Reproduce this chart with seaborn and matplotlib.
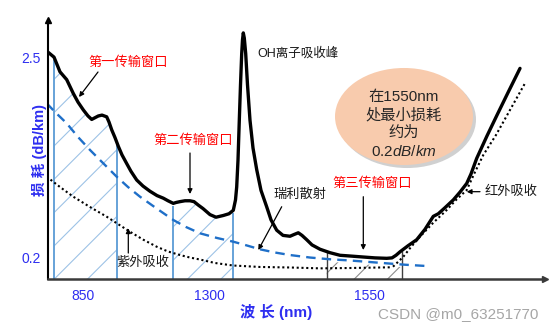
import numpy as np
import matplotlib
matplotlib.use("Agg")
import matplotlib.pyplot as plt
from matplotlib.patches import Ellipse
import seaborn as sns

# ---------------- data (schematic horizontal position, loss in dB/km) ----------------
total_x = [47.7, 54, 60, 66.7, 73.3, 78, 83.3, 88, 91.7, 95, 98.3, 102, 106.7, 109, 111.7,
           115, 118.3, 122, 126.7, 131, 136.7, 143, 150, 157, 163.3, 168, 173.3, 176, 180,
           185, 190, 194, 198.3, 203, 210, 216, 223.3, 229, 233.3, 235.5, 236.7, 238, 239.3,
           240.5, 241.7, 242.5, 243.3, 244.3, 245.7, 247.5, 250, 253, 256.7, 261, 266.7, 271,
           276.7, 283, 290, 294, 298.3, 302, 306.7, 312, 320, 330, 340, 352, 363.3, 375,
           386.7, 392, 396, 400, 408, 416.7, 425, 433.3, 438.3, 445, 453.3, 460, 466.7, 471,
           476.7, 487, 497, 508, 520]
total_loss = [2.57, 2.51, 2.34, 2.25, 2.09, 1.99, 1.90, 1.83, 1.79, 1.81, 1.83, 1.84, 1.82,
              1.76, 1.67, 1.58, 1.48, 1.38, 1.28, 1.19, 1.09, 1.02, 0.96, 0.91, 0.88, 0.85,
              0.82, 0.83, 0.84, 0.85, 0.85, 0.84, 0.80, 0.76, 0.69, 0.66, 0.68, 0.70, 0.74,
              0.86, 1.01, 1.32, 1.78, 2.19, 2.55, 2.71, 2.79, 2.73, 2.55, 2.19, 1.78, 1.46,
              1.21, 0.97, 0.78, 0.63, 0.51, 0.45, 0.44, 0.46, 0.48, 0.45, 0.40, 0.34, 0.29,
              0.25, 0.22, 0.21, 0.20, 0.19, 0.185, 0.19, 0.22, 0.26, 0.33, 0.40, 0.52, 0.67,
              0.70, 0.77, 0.86, 0.95, 1.05, 1.16, 1.34, 1.60, 1.84, 2.10, 2.38]

rayleigh_x = [46.7, 55, 66.7, 78, 90, 103, 116.7, 128, 140, 156, 173.3, 186, 200, 217, 233.3,
              247, 260, 275, 290, 310, 330, 350, 370, 386.7, 405, 426.7]
rayleigh_loss = [1.976, 1.876, 1.745, 1.587, 1.437, 1.286, 1.128, 1.009, 0.897, 0.766, 0.628,
                 0.547, 0.474, 0.420, 0.377, 0.333, 0.289, 0.252, 0.223, 0.194, 0.174, 0.160,
                 0.142, 0.127, 0.111, 0.096]

uv_x = [46.7, 60, 73.3, 90, 106.7, 118, 130, 143, 156.7, 168, 180, 190, 200, 215, 233, 260,
        290, 320, 350, 390]
uv_loss = [1.128, 1.009, 0.897, 0.778, 0.666, 0.581, 0.492, 0.402, 0.319, 0.264, 0.223, 0.194,
           0.171, 0.131, 0.102, 0.085, 0.079, 0.069, 0.073, 0.081]

ir_x = [393, 403.3, 411, 420, 433, 446.7, 456, 466.7, 475, 483.3, 496, 510, 525]
ir_loss = [0.088, 0.203, 0.316, 0.435, 0.593, 0.743, 0.859, 0.974, 1.182, 1.379, 1.610,
           1.899, 2.208]

windows = [(54.3, 116.7), (172.7, 233.3), (326.7, 401.7)]

xtick_pos = [83, 209, 369]
xtick_labels = ["850", "1300", "1550"]
ytick_vals = [2.5, 0.2]
ytick_labels = ["2.5", "0.2"]

# ---------------- style ----------------
sns.set_theme(style="white")
plt.rcParams["font.family"] = ["Liberation Sans", "Noto Sans CJK SC", "DejaVu Sans"]
plt.rcParams["mathtext.fontset"] = "custom"
plt.rcParams["mathtext.rm"] = "Liberation Sans"
plt.rcParams["mathtext.it"] = "Liberation Sans:italic"
plt.rcParams["hatch.linewidth"] = 0.8

BLUE_TXT = "#2E2EF0"
RED = "#FF0000"

fig = plt.figure(figsize=(5.54, 3.32), dpi=100)
ax = fig.add_axes([48 / 554, (332 - 279) / 332, (545 - 48) / 554, (279 - 20) / 332])
ymin, ymax = -0.054, 2.939
ax.set_xlim(48, 545)
ax.set_ylim(ymin, ymax)

bx = np.array(total_x)
by = np.array(total_loss)

# transmission windows 1 & 2 (blue hatch)
for lo, hi in windows[:2]:
    m = (bx > lo) & (bx < hi)
    xs = np.concatenate([[lo], bx[m], [hi]])
    ys = np.concatenate([[np.interp(lo, bx, by)], by[m], [np.interp(hi, bx, by)]])
    ax.fill_between(xs, ys, ymin, facecolor="none", edgecolor="#9DC3E6", hatch="/", linewidth=0)
    for e in (lo, hi):
        ax.vlines(e, ymin, np.interp(e, bx, by) - 0.03, color="#5B9BD5", lw=1.3)

# window 3 (gray hatch)
lo, hi = windows[2]
rx = np.array(rayleigh_x); ry = np.array(rayleigh_loss)
xs = np.linspace(lo, hi, 2)
ax.fill_between([lo, hi], [np.interp(lo, rx, ry) - 0.03, np.interp(hi, rx, ry) - 0.03], ymin,
                facecolor="none", edgecolor="#8C8C8C", hatch="/", linewidth=0)
for e in (lo, hi):
    ax.vlines(e, ymin, np.interp(e, bx, by), color="#404040", lw=1.0)

# curves
sns.lineplot(x=rayleigh_x, y=rayleigh_loss, ax=ax, color="#1F6FC8", lw=1.7,
             linestyle=(0, (4, 2.6)), estimator=None, sort=False)
sns.lineplot(x=uv_x, y=uv_loss, ax=ax, color="black", lw=1.5, linestyle=(0, (1, 1.3)),
             estimator=None, sort=False)
sns.lineplot(x=ir_x, y=ir_loss, ax=ax, color="black", lw=1.5, linestyle=(0, (1, 1.3)),
             estimator=None, sort=False)
sns.lineplot(x=total_x, y=total_loss, ax=ax, color="black", lw=2.4, estimator=None, sort=False)

# axes styling
for s in ("top", "right"):
    ax.spines[s].set_visible(False)
ax.spines["left"].set_color("black")
ax.spines["left"].set_linewidth(1.5)
ax.spines["bottom"].set_color("#3A3A3A")
ax.spines["bottom"].set_linewidth(1.8)
ax.plot(0, 1, marker="^", ms=5, color="black", transform=ax.transAxes, clip_on=False)
ax.plot(1, 0, marker=">", ms=5, color="#3A3A3A", transform=ax.transAxes, clip_on=False)

ax.set_xticks(xtick_pos)
ax.set_xticklabels(xtick_labels)
ax.set_yticks(ytick_vals)
ax.set_yticklabels(ytick_labels)
ax.tick_params(axis="x", length=0, pad=7, labelsize=10, labelcolor=BLUE_TXT)
ax.tick_params(axis="y", length=0, pad=5, labelsize=10, labelcolor=BLUE_TXT)

ax.set_ylabel("损 耗 (dB/km)", color=BLUE_TXT, fontsize=10.5, fontweight="bold")
ax.yaxis.set_label_coords(-0.003, 0.50)
ax.set_xlabel("波 长 (nm)", color=BLUE_TXT, fontsize=11, fontweight="bold")
ax.xaxis.set_label_coords(0.459, -0.095)

# annotations
arrow = dict(arrowstyle="-|>", color="black", lw=0.9, mutation_scale=7, shrinkA=0, shrinkB=0)
ax.text(128, 2.448, "第一传输窗口", color=RED, fontsize=9.5, ha="center", va="center")
ax.annotate("", xy=(79, 2.049), xytext=(98, 2.338), arrowprops=arrow)
ax.text(193, 1.541, "第二传输窗口", color=RED, fontsize=9.5, ha="center", va="center")
ax.annotate("", xy=(190, 0.928), xytext=(190, 1.402), arrowprops=arrow)
ax.text(257, 2.554, "OH离子吸收峰", color="#1A1A1A", fontsize=9, ha="left", va="center")
ax.text(300, 0.917, "瑞利散射", color="#1A1A1A", fontsize=9.5, ha="center", va="center")
ax.annotate("", xy=(258.3, 0.281), xytext=(281.7, 0.781), arrowprops=arrow)
ax.text(371.7, 1.052, "第三传输窗口", color=RED, fontsize=9.5, ha="center", va="center")
ax.annotate("", xy=(363.3, 0.281), xytext=(363.3, 0.897), arrowprops=arrow)
ax.text(143.3, 0.134, "紫外吸收", color="#1A1A1A", fontsize=9.5, ha="center", va="center")
ax.annotate("", xy=(128.3, 0.532), xytext=(128.3, 0.246), arrowprops=arrow)
ax.text(511.5, 0.955, "红外吸收", color="#1A1A1A", fontsize=9.5, ha="center", va="center")
ax.annotate("", xy=(466.7, 0.955), xytext=(480, 0.955), arrowprops=arrow)

# info ellipse
ax.add_patch(Ellipse((407, 1.789), 138, 1.121, facecolor="#D0D0D0", edgecolor="none", zorder=4))
ax.add_patch(Ellipse((404, 1.824), 138, 1.121, facecolor="#F8CBAD", edgecolor="none", zorder=5))
for ty, t in zip([2.049, 1.841, 1.633, 1.414],
                 ["在1550nm", "处最小损耗", "约为", r"0.2$\mathit{dB/km}$"]):
    ax.text(404, ty, t, color="#262626", fontsize=11, ha="center", va="center", zorder=6)

fig.text(538 / 554, 1 - 314 / 332, "CSDN @m0_63251770", color="#A6A6A6", fontsize=11,
         ha="right", va="center")

fig.savefig("out.png", dpi=100)
